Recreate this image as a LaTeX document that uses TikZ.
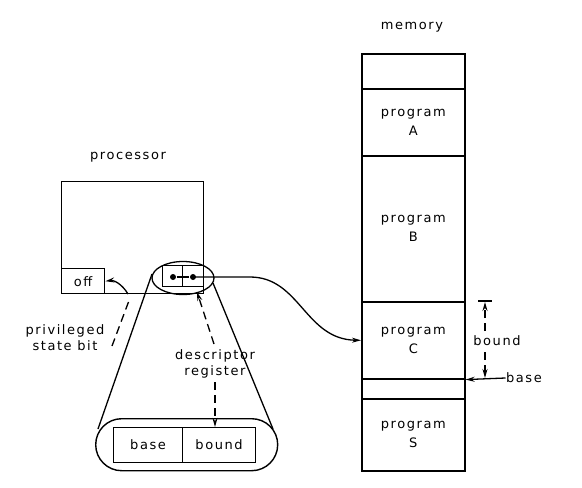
\documentclass[tikz,border=0pt]{standalone}
\usepackage{fontspec}
\setmainfont{DejaVu Sans}[LetterSpace=12]
\usetikzlibrary{arrows.meta,shapes.geometric,calc}
\begin{document}
\begin{tikzpicture}[x=1pt,y=-1pt,
  lbl/.style={font=\fontsize{13}{16}\selectfont,align=center,inner sep=0pt},
  box/.style={draw,line width=1.4pt,inner sep=0pt,anchor=north west},
  mem/.style={draw,line width=1.6pt,inner sep=0pt,anchor=north west,minimum width=103pt,align=center,font=\fontsize{13}{19}\selectfont},
  tip/.style={-{Stealth[length=9pt,width=5pt]}},
  dsh/.style={dash pattern=on 8pt off 5pt,line width=1.3pt},
  line width=1.3pt]
\useasboundingbox (0,0) rectangle (582,488);
% processor
\node[lbl] (ptitle) at (128,157) {processor};
\node[box,minimum width=142pt,minimum height=112pt] (proc) at (61,181) {};
\node[box,minimum width=43pt,minimum height=25pt,font=\fontsize{13}{16}\selectfont] (off) at (61,268) {off};
% small register
\node[box,line width=1.1pt,minimum width=20pt,minimum height=21pt] (regL) at (162,265) {};
\node[box,line width=1.1pt,minimum width=21pt,minimum height=21pt] (regR) at (182,265) {};
\node[circle,fill,inner sep=0pt,minimum size=6pt] (dotL) at (173,277) {};
\node[circle,fill,inner sep=0pt,minimum size=6pt] (dotR) at (193,277) {};
\node[ellipse,draw,line width=1.3pt,minimum width=62pt,minimum height=33pt,inner sep=0pt] (sell) at (183,278) {};
% big descriptor register
\node[draw,line width=1.4pt,rounded corners=26pt,minimum width=182pt,minimum height=52pt,inner sep=0pt,anchor=north west] (cap) at (95,418) {};
\node[box,line width=1.1pt,minimum width=69pt,minimum height=35pt,anchor=north west,font=\fontsize{13}{16}\selectfont] (base) at (113,427) {base};
\node[box,line width=1.1pt,minimum width=73pt,minimum height=35pt,anchor=north west,font=\fontsize{13}{16}\selectfont] (bound) at (182,427) {bound};
% cone
\coordinate (cl1) at (152,274);
\coordinate (cr1) at (213,283);
\coordinate (cl2) at (98,429);
\coordinate (cr2) at (273,429);
\draw (cl1) -- (cl2);
\draw (cr1) -- (cr2);
% memory
\node[lbl] (mtitle) at (412,27) {memory};
\node[mem,minimum height=35pt] (mem0) at (361,53) {};
\node[mem,minimum height=67pt] (memA) at (361,88) {program\\A};
\node[mem,minimum height=146pt] (memB) at (361,155) {program\\B};
\node[mem,minimum height=77pt] (memC) at (361,301) {program\\C};
\node[mem,minimum height=20pt] (memE) at (361,378) {};
\node[mem,minimum height=72pt] (memS) at (361,398) {program\\S};
% pointer from register to program C
\draw (dotL) -- (dotR);
\draw[tip] (dotR.center) -- (250,277) .. controls (300,277) and (305,339.5) .. (memC.west);
% privileged state bit
\node[lbl] (priv) at (65,338) {privileged\\state bit};
\coordinate (pb1) at (128,294);
\coordinate (pb2) at (112,346);
\draw[tip] (pb1) .. controls (122,284) and (114,280) .. (off.east);
\draw[dsh] (pb2) -- (130,298);
% descriptor register label
\node[lbl] (desc) at (215,364) {descriptor\\register};
\coordinate (d1) at (214,344);
\coordinate (d2) at (215,382);
\draw[dsh,tip] (d1) -- (197,292);
\draw[dsh,tip] (d2) -- (bound.north -| d2);
% bound / base dimension
\node[lbl] (bnd) at (497,341) {bound};
\node[lbl] (bse) at (524,378) {base};
\coordinate (t1) at (478,301);
\coordinate (t2) at (492,301);
\coordinate (b1) at (485,331);
\coordinate (b2) at (485,352);
\draw (t1) -- (t2);
\draw[dsh,tip] (b1) -- (485,302);
\draw[dsh,tip] (b2) -- (485,378);
\draw[tip] (bse.west) -- (memC.south east);
\end{tikzpicture}
\end{document}
